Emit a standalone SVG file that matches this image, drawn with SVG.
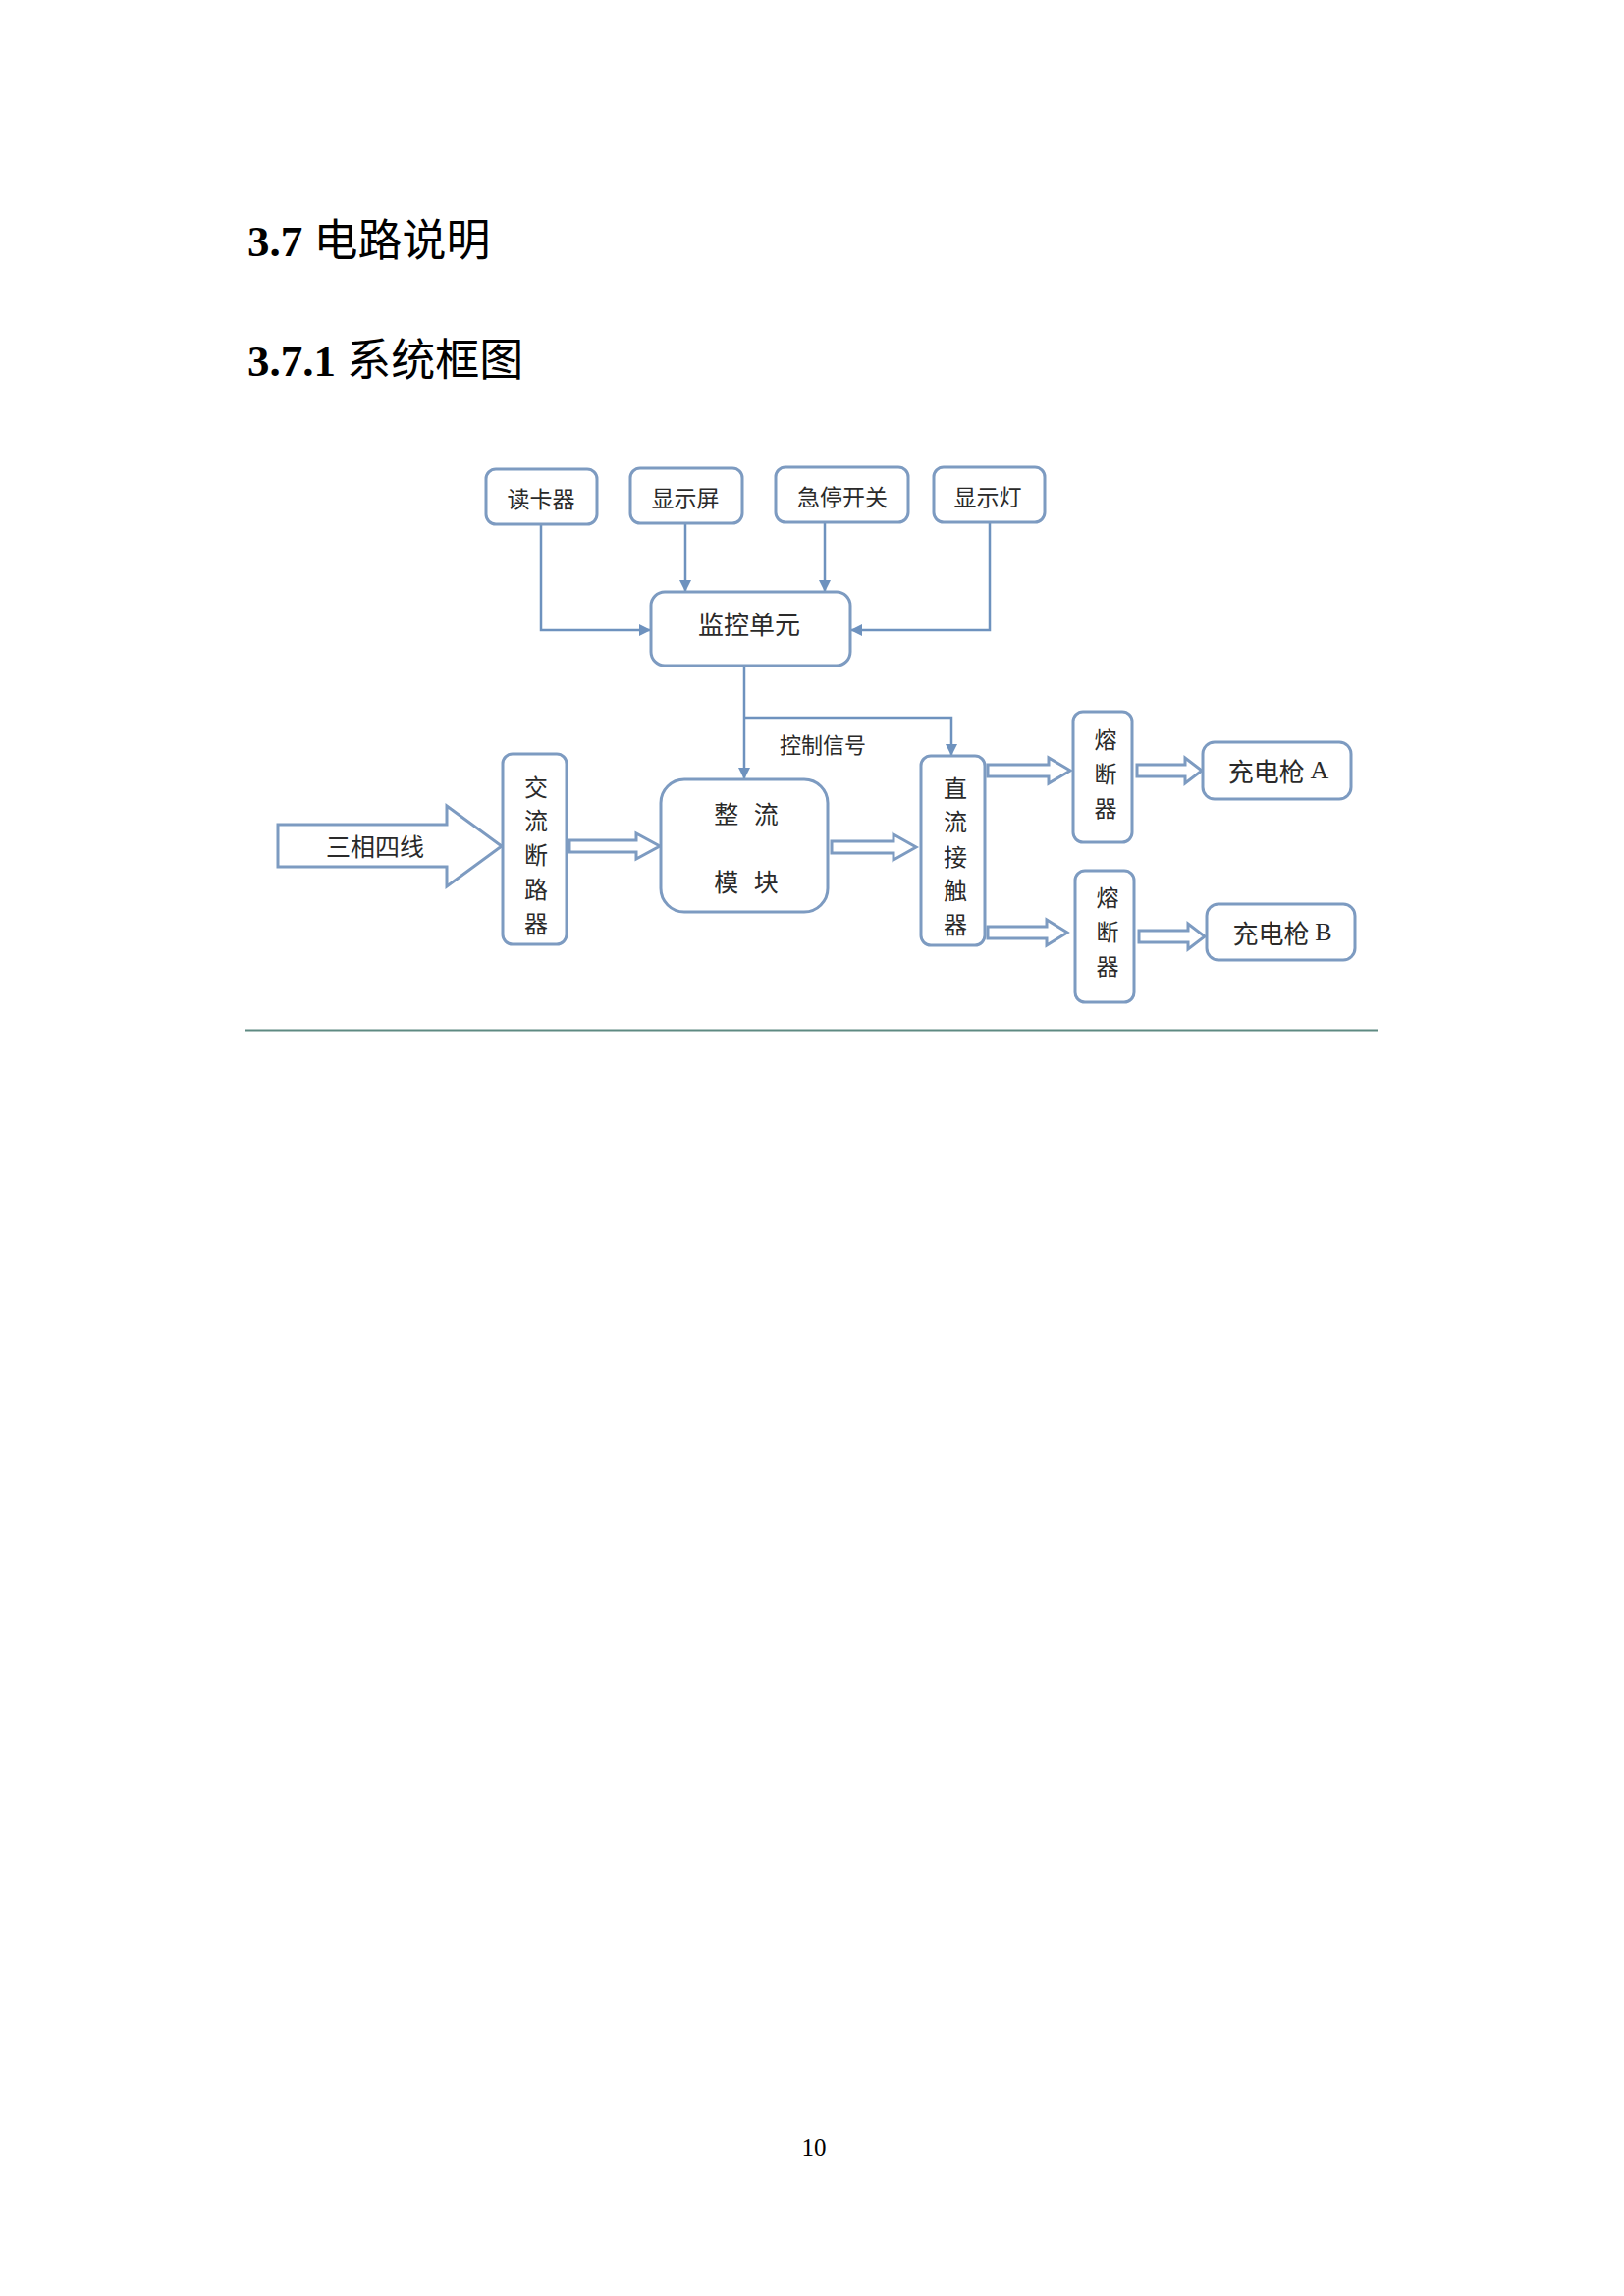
<svg xmlns="http://www.w3.org/2000/svg" width="1654" height="2339" viewBox="0 0 1654 2339">
<style>
.bg{fill:#ffffff}
.box{fill:#ffffff;stroke:#7D9BC1;stroke-width:3}
.ln{fill:none;stroke:#6E92BE;stroke-width:2.5}
.ha{fill:#ffffff;stroke:#7D9BC1;stroke-width:3;stroke-linejoin:miter}
.lbl{font-family:"Noto Sans CJK SC","Noto Sans",sans-serif;fill:#2a2a2a;text-anchor:middle;dominant-baseline:central}
.h{font-family:"Liberation Serif","Noto Sans CJK SC",serif;font-size:45px;fill:#000000}
.hz{font-family:"Noto Sans CJK SC",sans-serif;font-weight:normal}
.lat{font-family:"Liberation Serif",serif}
</style>
<defs>
<marker id="arr" viewBox="0 0 12 12" refX="12" refY="6" markerWidth="12" markerHeight="12" markerUnits="userSpaceOnUse" orient="auto">
<path d="M0,0 L12,6 L0,12 z" fill="#6E92BE"/>
</marker>
</defs>
<rect class="bg" x="0" y="0" width="1654" height="2339"/>

<g id="headings">
<text class="h" x="252" y="261"><tspan font-weight="bold">3.7 </tspan><tspan class="hz">电路说明</tspan></text>
<text class="h" x="252" y="383"><tspan font-weight="bold">3.7.1 </tspan><tspan class="hz">系统框图</tspan></text>
</g>

<g id="connectors">
<path class="ln" d="M551 534 V642 H663" marker-end="url(#arr)"/>
<path class="ln" d="M698 533 V603" marker-end="url(#arr)"/>
<path class="ln" d="M840 532 V603" marker-end="url(#arr)"/>
<path class="ln" d="M1008 532 V642 H866" marker-end="url(#arr)"/>
<path class="ln" d="M758 678 V794" marker-end="url(#arr)"/>
<path class="ln" d="M758 731 H969 V770" marker-end="url(#arr)"/>
<polygon class="ha" points="580,856 648,856 648,849 672,862 648,875 648,868 580,868"/>
<polygon class="ha" points="847,857 910,857 910,850 933,863 910,876 910,869 847,869"/>
<polygon class="ha" points="1006,779 1068,779 1068,772 1090,785 1068,798 1068,791 1006,791"/>
<polygon class="ha" points="1006,944 1066,944 1066,937 1087,950 1066,963 1066,956 1006,956"/>
<polygon class="ha" points="1158,779 1207,779 1207,772 1224,785 1207,798 1207,791 1158,791"/>
<polygon class="ha" points="1160,948 1210,948 1210,941 1227,954 1210,967 1210,960 1160,960"/>
<text class="lbl" x="838" y="757" font-size="22">控制信号</text>
</g>

<g id="input-arrow">
<polygon class="ha" points="283,840 455,840 455,821 511,862 455,903 455,883 283,883"/>
<text class="lbl" x="382" y="861" font-size="25">三相四线</text>
</g>

<g id="reader">
<rect class="box" x="495" y="478" width="113" height="56" rx="10"/>
<text class="lbl" x="551" y="507" font-size="23">读卡器</text>
</g>
<g id="screen">
<rect class="box" x="642" y="477" width="114" height="56" rx="10"/>
<text class="lbl" x="698" y="506" font-size="23">显示屏</text>
</g>
<g id="estop">
<rect class="box" x="790" y="476" width="135" height="56" rx="10"/>
<text class="lbl" x="858" y="505" font-size="23">急停开关</text>
</g>
<g id="lamp">
<rect class="box" x="951" y="476" width="113" height="56" rx="10"/>
<text class="lbl" x="1006" y="505" font-size="23">显示灯</text>
</g>
<g id="monitor">
<rect class="box" x="663" y="603" width="203" height="75" rx="14"/>
<text class="lbl" x="763" y="634" font-size="26">监控单元</text>
</g>

<g id="ac-breaker">
<rect class="box" x="512" y="768" width="65" height="194" rx="10"/>
<text class="lbl" font-size="24"><tspan x="546" y="800">交</tspan><tspan x="546" y="834">流</tspan><tspan x="546" y="869">断</tspan><tspan x="546" y="904">路</tspan><tspan x="546" y="939">器</tspan></text>
</g>

<g id="rectifier">
<rect class="box" x="673" y="794" width="170" height="135" rx="24"/>
<text class="lbl" x="760" y="828" font-size="25" word-spacing="10">整 流</text>
<text class="lbl" x="760" y="897" font-size="25" word-spacing="10">模 块</text>
</g>

<g id="dc-contactor">
<rect class="box" x="938" y="770" width="65" height="193" rx="10"/>
<text class="lbl" font-size="24"><tspan x="973" y="801">直</tspan><tspan x="973" y="835">流</tspan><tspan x="973" y="871">接</tspan><tspan x="973" y="905">触</tspan><tspan x="973" y="940">器</tspan></text>
</g>

<g id="fuse-a">
<rect class="box" x="1093" y="725" width="60" height="133" rx="10"/>
<text class="lbl" font-size="23"><tspan x="1126" y="752">熔</tspan><tspan x="1126" y="787">断</tspan><tspan x="1126" y="822">器</tspan></text>
</g>
<g id="fuse-b">
<rect class="box" x="1095" y="887" width="60" height="134" rx="10"/>
<text class="lbl" font-size="23"><tspan x="1128" y="913">熔</tspan><tspan x="1128" y="948">断</tspan><tspan x="1128" y="983">器</tspan></text>
</g>

<g id="gun-a">
<rect class="box" x="1225" y="756" width="151" height="58" rx="12"/>
<text class="lbl" x="1302" y="784" font-size="26">充电枪 <tspan class="lat">A</tspan></text>
</g>
<g id="gun-b">
<rect class="box" x="1229" y="921" width="151" height="57" rx="12"/>
<text class="lbl" x="1306" y="949" font-size="26">充电枪 <tspan class="lat">B</tspan></text>
</g>

<g id="rule">
<line x1="250" y1="1049.5" x2="1403" y2="1049.5" stroke="#5E8A82" stroke-width="2"/>
</g>

<g id="page-number">
<text x="829" y="2196" font-family="Liberation Serif, serif" font-size="25" text-anchor="middle" fill="#000000">10</text>
</g>
</svg>
